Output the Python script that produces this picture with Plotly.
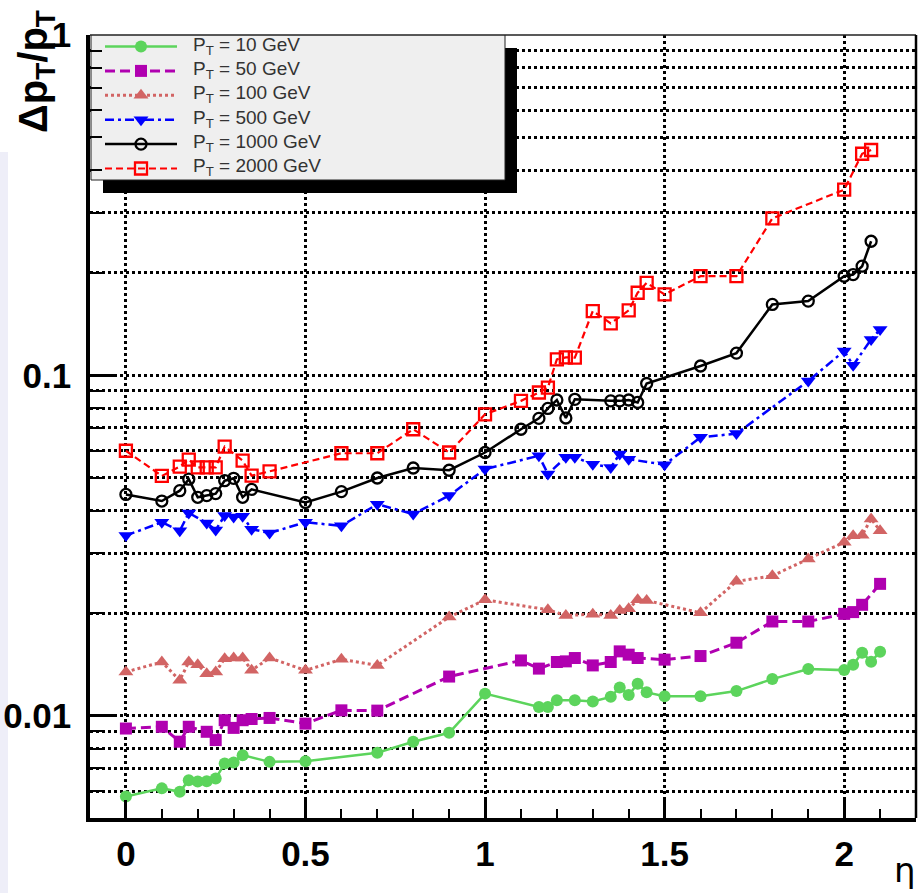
import math
import plotly.graph_objects as go

# Relative transverse-momentum resolution versus pseudorapidity, one curve per muon pT
eta_10 = [0, 0.1, 0.15, 0.175, 0.2, 0.225, 0.25, 0.275, 0.3, 0.325, 0.4, 0.5, 0.7, 0.8, 0.9, 1.0,
          1.15, 1.175, 1.2, 1.25, 1.3, 1.35, 1.375, 1.4, 1.425, 1.45, 1.5, 1.6, 1.7, 1.8, 1.9,
          2.0, 2.025, 2.05, 2.075, 2.1]
dpt_10 = [0.00578, 0.00611, 0.00597, 0.00646, 0.0064, 0.00641, 0.00653, 0.00723, 0.00728, 0.00765,
          0.00731, 0.00734, 0.00778, 0.00838, 0.0089, 0.0116, 0.0106, 0.0106, 0.0111, 0.0111, 0.0110,
          0.01135, 0.0121, 0.0115, 0.0124, 0.0117, 0.0114, 0.0114, 0.0118, 0.0128, 0.0137, 0.0136,
          0.0141, 0.0153, 0.0144, 0.0154]

eta_50 = [0, 0.1, 0.15, 0.175, 0.225, 0.25, 0.275, 0.3, 0.325, 0.35, 0.4, 0.5, 0.6, 0.7, 0.9,
          1.1, 1.15, 1.2, 1.225, 1.25, 1.3, 1.35, 1.375, 1.4, 1.425, 1.5, 1.6, 1.7, 1.8, 1.9,
          2.0, 2.025, 2.05, 2.1]
dpt_50 = [0.00916, 0.00927, 0.00838, 0.00927, 0.00896, 0.00847, 0.00969, 0.0092, 0.00969, 0.00977,
          0.00984, 0.00947, 0.01036, 0.01034, 0.01302, 0.01452, 0.01374, 0.01437, 0.01443, 0.01476,
          0.01404, 0.01437, 0.01544, 0.0151, 0.01476, 0.0146, 0.01496, 0.01637, 0.0189, 0.0189,
          0.0199, 0.02014, 0.02116, 0.02438]

eta_100 = [0, 0.1, 0.15, 0.175, 0.2, 0.225, 0.25, 0.275, 0.3, 0.325, 0.35, 0.4, 0.5, 0.6, 0.7, 0.9,
           1.0, 1.175, 1.225, 1.3, 1.35, 1.375, 1.4, 1.425, 1.45, 1.6, 1.7, 1.8, 1.9, 2.0, 2.025,
           2.05, 2.075, 2.1]
dpt_100 = [0.01343, 0.01437, 0.01269, 0.01437, 0.0141, 0.01328, 0.01343, 0.0147, 0.01477, 0.01477,
           0.01358, 0.01477, 0.01358, 0.01463, 0.01404, 0.01948, 0.02188, 0.02046, 0.01969, 0.01985,
           0.01969, 0.02037, 0.0206, 0.0219, 0.02178, 0.02005, 0.0248, 0.02574, 0.02887, 0.0323,
           0.03379, 0.0339, 0.03782, 0.03495]

eta_500 = [0, 0.1, 0.15, 0.175, 0.225, 0.25, 0.275, 0.3, 0.325, 0.35, 0.4, 0.5, 0.6, 0.7, 0.8, 0.9,
           1.0, 1.15, 1.175, 1.225, 1.25, 1.3, 1.35, 1.375, 1.4, 1.5, 1.6, 1.7, 1.9, 2.0, 2.025,
           2.075, 2.1]
dpt_500 = [0.0338, 0.0370, 0.0349, 0.0394, 0.0368, 0.0351, 0.0387, 0.0383, 0.0385, 0.0353, 0.0344,
           0.0370, 0.0361, 0.0418, 0.0391, 0.0443, 0.0530, 0.0580, 0.0513, 0.0574, 0.0574, 0.0548,
           0.0536, 0.0587, 0.0567, 0.0546, 0.0657, 0.0674, 0.0962, 0.1179, 0.1070, 0.1275, 0.1364]

eta_1000 = [0, 0.1, 0.15, 0.175, 0.2, 0.225, 0.25, 0.275, 0.3, 0.325, 0.35, 0.5, 0.6, 0.7, 0.8, 0.9,
            1.0, 1.1, 1.15, 1.175, 1.2, 1.225, 1.25, 1.35, 1.375, 1.4, 1.425, 1.45, 1.6, 1.7, 1.8,
            1.9, 2.0, 2.025, 2.05, 2.075]
dpt_1000 = [0.04465, 0.0427, 0.0458, 0.0495, 0.0438, 0.0443, 0.0449, 0.0490, 0.0498, 0.0438, 0.0462,
            0.0423, 0.0455, 0.0499, 0.0534, 0.0526, 0.0593, 0.0694, 0.0747, 0.0799, 0.0846, 0.0749,
            0.0850, 0.0841, 0.0841, 0.0846, 0.0832, 0.0946, 0.1065, 0.1162, 0.1615, 0.1652, 0.1955,
            0.1977, 0.2092, 0.2477]

eta_2000 = [0, 0.1, 0.15, 0.175, 0.2, 0.225, 0.25, 0.275, 0.325, 0.35, 0.4, 0.6, 0.7, 0.8, 0.9, 1.0,
            1.1, 1.15, 1.175, 1.2, 1.225, 1.25, 1.3, 1.35, 1.4, 1.425, 1.45, 1.5, 1.6, 1.7, 1.8,
            2.0, 2.05, 2.075]
dpt_2000 = [0.0600, 0.0506, 0.0539, 0.0565, 0.0536, 0.0536, 0.0536, 0.0617, 0.0561, 0.0507, 0.0522,
            0.0590, 0.0590, 0.0694, 0.0593, 0.0768, 0.0841, 0.0890, 0.0920, 0.1114, 0.1129, 0.1127,
            0.1544, 0.1421, 0.1551, 0.1748, 0.1870, 0.1728, 0.1955, 0.1955, 0.2891, 0.3511, 0.4477,
            0.4592]

labels = ["P<sub>T</sub> = 10 GeV", "P<sub>T</sub> = 50 GeV", "P<sub>T</sub> = 100 GeV",
          "P<sub>T</sub> = 500 GeV", "P<sub>T</sub> = 1000 GeV", "P<sub>T</sub> = 2000 GeV"]

x_ticks = [0, 0.5, 1, 1.5, 2]
x_ticktext = ["0", "0.5", "1", "1.5", "2"]
y_ticks = [0.01, 0.1, 1]
y_ticktext = ["0.01", "0.1", "1"]
y_minor = [m * 10 ** e for e in (-3, -2, -1) for m in range(2, 10) if m * 10 ** e > 0.0049]

# ---- geometry & styling ---------------------------------------------------
W, H = 923, 893
ML, MR, MT, MB = 90, 7, 35, 75
X_RANGE = [-0.1, 2.2]
Y_RANGE = [math.log10(0.005), 0.0]
FONT = "Liberation Sans, Arial, Helvetica, sans-serif"
PW, PH = W - ML - MR, H - MT - MB


def fx(px):
    """pixel column -> fraction of the plot area width"""
    return (px - ML) / PW


def fy(py):
    """pixel row -> fraction of the plot area height (from bottom)"""
    return (H - MB - py) / PH


def data_x(px):
    return X_RANGE[0] + fx(px) * (X_RANGE[1] - X_RANGE[0])


def data_y(py):
    return 10 ** (Y_RANGE[0] + fy(py) * (Y_RANGE[1] - Y_RANGE[0]))


styles = [
    dict(color="rgb(92,212,92)", dash="solid", width=2.5, symbol="circle", size=12, lw=0),
    dict(color="rgb(176,0,176)", dash="10px,5px", width=3, symbol="square", size=12, lw=0),
    dict(color="rgb(210,100,100)", dash="3px,3px", width=3, symbol="triangle-up", size=13, lw=0),
    dict(color="rgb(0,0,255)", dash="9px,4px,3px,4px", width=2.5, symbol="triangle-down", size=13, lw=0),
    dict(color="black", dash="solid", width=2.5, symbol="circle-open", size=11, lw=2.3),
    dict(color="rgb(255,0,0)", dash="7px,4px", width=2.2, symbol="square-open", size=12, lw=2.3),
]

data = [(eta_10, dpt_10), (eta_50, dpt_50), (eta_100, dpt_100),
        (eta_500, dpt_500), (eta_1000, dpt_1000), (eta_2000, dpt_2000)]

fig = go.Figure()
for (xs, ys), st, name in zip(data, styles, labels):
    fig.add_trace(go.Scatter(
        x=xs, y=ys, mode="lines+markers", name=name, showlegend=False,
        line=dict(color=st["color"], width=st["width"], dash=st["dash"]),
        marker=dict(symbol=st["symbol"], size=st["size"], color=st["color"],
                    line=dict(width=st["lw"], color=st["color"])),
        hoverinfo="skip",
    ))

# ---- legend panel with drop shadow (filled polygons so they sit above the grid) ----
LEG_X0, LEG_X1, LEG_Y0, LEG_Y1 = 90, 505, 34, 180
SHADOW = 12
ROW_Y0, ROW_DY = 46.5, 24.4
SW_X0, SW_XM, SW_X1, TXT_X = 105, 141, 177, 191


def panel(x0, x1, y0, y1, fill, edge=None):
    xs = [data_x(x0), data_x(x1), data_x(x1), data_x(x0), data_x(x0)]
    ys = [data_y(y0), data_y(y0), data_y(y1), data_y(y1), data_y(y0)]
    fig.add_trace(go.Scatter(
        x=xs, y=ys, mode="lines", fill="toself", fillcolor=fill,
        line=dict(width=1 if edge else 0, color=edge or fill),
        showlegend=False, hoverinfo="skip"))


panel(LEG_X1, LEG_X1 + SHADOW, LEG_Y0 + 14, LEG_Y1 + SHADOW + 1, "black")
panel(LEG_X0 + 13, LEG_X1 + SHADOW, LEG_Y1, LEG_Y1 + SHADOW + 1, "black")
panel(LEG_X0 + 1, LEG_X1, LEG_Y0, LEG_Y1, "#efefef", "#222")

shapes = [
    # faint tinted strip along the left page edge
    dict(type="rect", xref="paper", yref="paper", x0=fx(0), x1=fx(8), y0=fy(H), y1=fy(152),
         fillcolor="#eeeef8", line=dict(width=0), layer="below"),
    # thin top and right frame edges
    dict(type="line", xref="paper", yref="paper", x0=0, x1=1, y0=1, y1=1,
         line=dict(color="#222", width=1.5)),
    dict(type="line", xref="paper", yref="paper", x0=1, x1=1, y0=0, y1=1,
         line=dict(color="black", width=2.5)),
]

annotations = []
for i, (st, name) in enumerate(zip(styles, labels)):
    ry = ROW_Y0 + i * ROW_DY
    fig.add_trace(go.Scatter(
        x=[data_x(SW_X0), data_x(SW_X1)], y=[data_y(ry), data_y(ry)], mode="lines",
        line=dict(color=st["color"], width=st["width"], dash=st["dash"]),
        showlegend=False, hoverinfo="skip"))
    fig.add_trace(go.Scatter(
        x=[data_x(SW_XM)], y=[data_y(ry)], mode="markers",
        marker=dict(symbol=st["symbol"], size=st["size"], color=st["color"],
                    line=dict(width=st["lw"], color=st["color"])),
        showlegend=False, hoverinfo="skip"))
    annotations.append(dict(
        xref="paper", yref="paper", x=fx(TXT_X), y=fy(ry - 1), xanchor="left", yanchor="middle",
        text=name, showarrow=False, font=dict(family=FONT, size=19, color="#333")))

annotations.append(dict(
    xref="paper", yref="paper", x=fx(36), y=fy(72), xanchor="center", yanchor="middle",
    text="Δp<sub>T</sub>/p<sub>T</sub>", textangle=-90, showarrow=False,
    font=dict(family=FONT, size=40, color="black", weight="bold")))
annotations.append(dict(
    xref="paper", yref="paper", x=fx(905), y=fy(870), xanchor="center", yanchor="middle",
    text="η", showarrow=False, font=dict(family="DejaVu Sans, sans-serif", size=34, color="black")))

GRID = dict(showgrid=True, gridcolor="black", gridwidth=2.5, griddash="dot")

fig.update_layout(
    width=W, height=H,
    margin=dict(l=ML, r=MR, t=MT, b=MB, pad=0, autoexpand=False),
    paper_bgcolor="white", plot_bgcolor="white",
    showlegend=False,
    shapes=shapes, annotations=annotations,
    xaxis=dict(
        range=X_RANGE, tickmode="array", tickvals=x_ticks, ticktext=x_ticktext,
        ticks="inside", ticklen=18, tickwidth=2.5, tickcolor="black",
        showline=True, linewidth=3.5, linecolor="black", zeroline=False,
        minor=dict(dtick=0.1, tick0=0, ticks="inside", ticklen=9, tickwidth=2,
                   tickcolor="black", showgrid=False),
        tickfont=dict(family=FONT, size=35, color="black", weight="bold"),
        ticklabelstandoff=2, automargin=False, **GRID,
    ),
    yaxis=dict(
        type="log", range=Y_RANGE, tickmode="array",
        tickvals=y_ticks, ticktext=y_ticktext,
        ticks="inside", ticklen=24, tickwidth=3, tickcolor="black",
        showline=True, linewidth=3.5, linecolor="black", zeroline=False,
        minor=dict(tickvals=y_minor, ticks="inside", ticklen=12, tickwidth=2,
                   tickcolor="black", **GRID),
        tickfont=dict(family=FONT, size=35, color="black", weight="bold"),
        ticklabelstandoff=8, automargin=False, **GRID,
    ),
)

fig.write_html("out.html")
